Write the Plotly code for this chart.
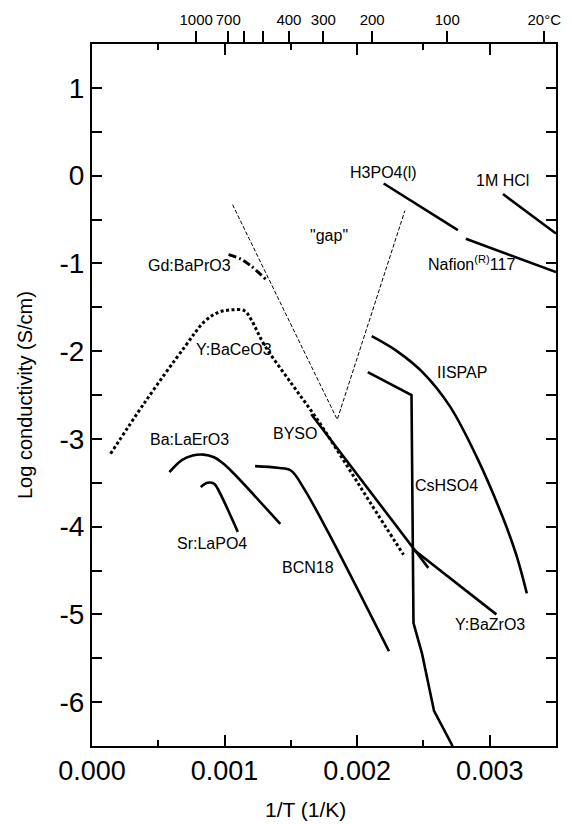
import plotly.graph_objects as go

# ---------------- data ----------------
baceo3_x = [0.00014, 0.0004, 0.0007, 0.00085, 0.00095, 0.00105, 0.00115, 0.0012, 0.0013, 0.0015, 0.0017, 0.0019, 0.0021, 0.00235]
baceo3_y = [-3.17, -2.58, -1.95, -1.66, -1.56, -1.53, -1.54, -1.64, -1.93, -2.36, -2.78, -3.25, -3.73, -4.32]

baprO3_x = [0.00103, 0.00112, 0.0012, 0.00131]
baprO3_y = [-0.90, -0.95, -1.03, -1.18]

gap_x = [0.00106, 0.00185, 0.00236]
gap_y = [-0.33, -2.78, -0.40]

h3po4_x = [0.0022, 0.00276]
h3po4_y = [-0.09, -0.62]

nafion_x = [0.00282, 0.0035]
nafion_y = [-0.72, -1.10]

hcl_x = [0.0031, 0.0035]
hcl_y = [-0.21, -0.66]

iispap_x = [0.00211, 0.0023, 0.0025, 0.0027, 0.0029, 0.0031, 0.0032, 0.00328]
iispap_y = [-1.83, -2.00, -2.25, -2.63, -3.20, -3.90, -4.32, -4.76]

cshso4_x = [0.00208, 0.00241, 0.002425, 0.00249, 0.00258, 0.00272]
cshso4_y = [-2.24, -2.50, -5.10, -5.45, -6.10, -6.50]

byso_x = [0.001654, 0.002537]
byso_y = [-2.72, -4.47]

bazro3_x = [0.002425, 0.00305]
bazro3_y = [-4.26, -5.00]

bcn18_x = [0.00123, 0.0014, 0.0015, 0.0016, 0.00178, 0.00224]
bcn18_y = [-3.31, -3.33, -3.36, -3.57, -4.06, -5.42]

laero3_x = [0.000584, 0.00068, 0.00076, 0.00084, 0.00092, 0.00098, 0.00106, 0.00142]
laero3_y = [-3.38, -3.24, -3.19, -3.18, -3.21, -3.27, -3.38, -3.97]

lapo4_x = [0.00082, 0.00087, 0.00092, 0.000945, 0.0011]
lapo4_y = [-3.55, -3.50, -3.51, -3.56, -4.06]

y_ticks = [1, 0, -1, -2, -3, -4, -5, -6]
y_ticktext = ["1", "0", "-1", "-2", "-3", "-4", "-5", "-6"]
x_ticks = [0.0, 0.001, 0.002, 0.003]
x_ticktext = ["0.000", "0.001", "0.002", "0.003"]
top_temps_c = [1000, 700, 400, 300, 200, 100, 20]
top_ticktext = ["1000", "700", "400", "300", "200", "100", "20°C"]
top_unlabeled_temps_c = [600, 500]

labels = [
    ("Gd:BaPrO3", 0.000734, -1.02),
    ("Y:BaCeO3", 0.00107, -1.98),
    ("Ba:LaErO3", 0.000734, -3.01),
    ("Sr:LaPO4", 0.000908, -4.19),
    ("BYSO", 0.00153, -2.94),
    ("BCN18", 0.00163, -4.47),
    ("CsHSO4", 0.002674, -3.53),
    ("Y:BaZrO3", 0.003, -5.11),
    ("IISPAP", 0.00279, -2.245),
    ("H3PO4(l)", 0.0022, 0.04),
    ("Nafion<sup>(R)</sup>117", 0.002866, -1.0),
    ("1M HCl", 0.0031, -0.057),
    ("\"gap\"", 0.00179, -0.68),
]

# ---------------- figure ----------------
FONT = "Liberation Sans, Arial, sans-serif"
fig = go.Figure()

def add_line(x, y, width=2.6, dash="solid", shape="linear"):
    fig.add_trace(go.Scatter(x=x, y=y, mode="lines", showlegend=False, hoverinfo="skip",
                             line=dict(color="black", width=width, dash=dash, shape=shape)))

add_line(baceo3_x, baceo3_y, width=3, dash="3px,2.5px", shape="spline")
add_line(baprO3_x, baprO3_y, width=3, dash="8px,3px,2px,3px", shape="spline")
add_line(gap_x, gap_y, width=1, dash="4px,2px")
add_line(h3po4_x, h3po4_y)
add_line(nafion_x, nafion_y)
add_line(hcl_x, hcl_y)
add_line(iispap_x, iispap_y, shape="spline")
add_line(cshso4_x, cshso4_y)
add_line(byso_x, byso_y)
add_line(bazro3_x, bazro3_y)
add_line(bcn18_x, bcn18_y, shape="spline")
add_line(laero3_x, laero3_y, shape="spline")
add_line(lapo4_x, lapo4_y, shape="spline")

top_vals = [1.0 / (t + 273.15) for t in top_temps_c]
top_unlabeled_vals = [1.0 / (t + 273.15) for t in top_unlabeled_temps_c]
# empty traces so that the top temperature axes are drawn
fig.add_trace(go.Scatter(x=[None], y=[None], xaxis="x2", showlegend=False, hoverinfo="skip"))
fig.add_trace(go.Scatter(x=[None], y=[None], xaxis="x3", showlegend=False, hoverinfo="skip"))

for text, x, y in labels:
    fig.add_annotation(x=x, y=y, text=text, showarrow=False,
                       font=dict(family=FONT, size=16, color="black"),
                       xanchor="center", yanchor="middle")

# axis titles
fig.add_annotation(xref="x", yref="paper", x=0.00161, y=0, yanchor="middle", xanchor="center",
                   yshift=-63, text="1/T (1/K)", showarrow=False,
                   font=dict(family=FONT, size=21, color="black"))
fig.add_annotation(xref="paper", yref="paper", x=0, y=0.5, xanchor="center", yanchor="middle",
                   xshift=-67, textangle=-90, text="Log conductivity (S/cm)", showarrow=False,
                   font=dict(family=FONT, size=20, color="black"))

top_common = dict(range=[0, 0.0035], overlaying="x", side="top", anchor="y",
                  tickmode="array", ticks="outside", ticklen=12, tickwidth=1.5, tickcolor="black",
                  showline=False, showgrid=False, zeroline=False, tickangle=0,
                  tickfont=dict(family=FONT, size=15, color="black"))

fig.update_layout(
    width=572, height=824,
    margin=dict(l=92, r=11, t=40, b=78),
    paper_bgcolor="white", plot_bgcolor="white",
    showlegend=False,
    font=dict(family=FONT, color="black"),
    xaxis=dict(range=[0, 0.0035], tickmode="array", tickvals=x_ticks, ticktext=x_ticktext,
               ticks="inside", ticklen=11, tickwidth=2, tickcolor="black",
               minor=dict(tickmode="linear", tick0=0, dtick=0.0005, ticks="inside", ticklen=6,
                          tickwidth=2, tickcolor="black", showgrid=False),
               showline=True, linewidth=2, linecolor="black", mirror="allticks",
               showgrid=False, zeroline=False, tickangle=0,
               tickfont=dict(family=FONT, size=27, color="black")),
    xaxis2=dict(tickvals=top_vals, ticktext=top_ticktext, **top_common),
    xaxis3=dict(tickvals=top_unlabeled_vals, showticklabels=False, **top_common),
    yaxis=dict(range=[-6.5, 1.5], tickmode="array", tickvals=y_ticks, ticktext=y_ticktext,
               ticks="inside", ticklen=10, tickwidth=2, tickcolor="black",
               minor=dict(tickmode="linear", tick0=0, dtick=0.5, ticks="inside", ticklen=6,
                          tickwidth=2, tickcolor="black", showgrid=False),
               showline=True, linewidth=2, linecolor="black", mirror="allticks",
               showgrid=False, zeroline=False,
               tickfont=dict(family=FONT, size=28, color="black")),
)

fig.write_html("out.html")
